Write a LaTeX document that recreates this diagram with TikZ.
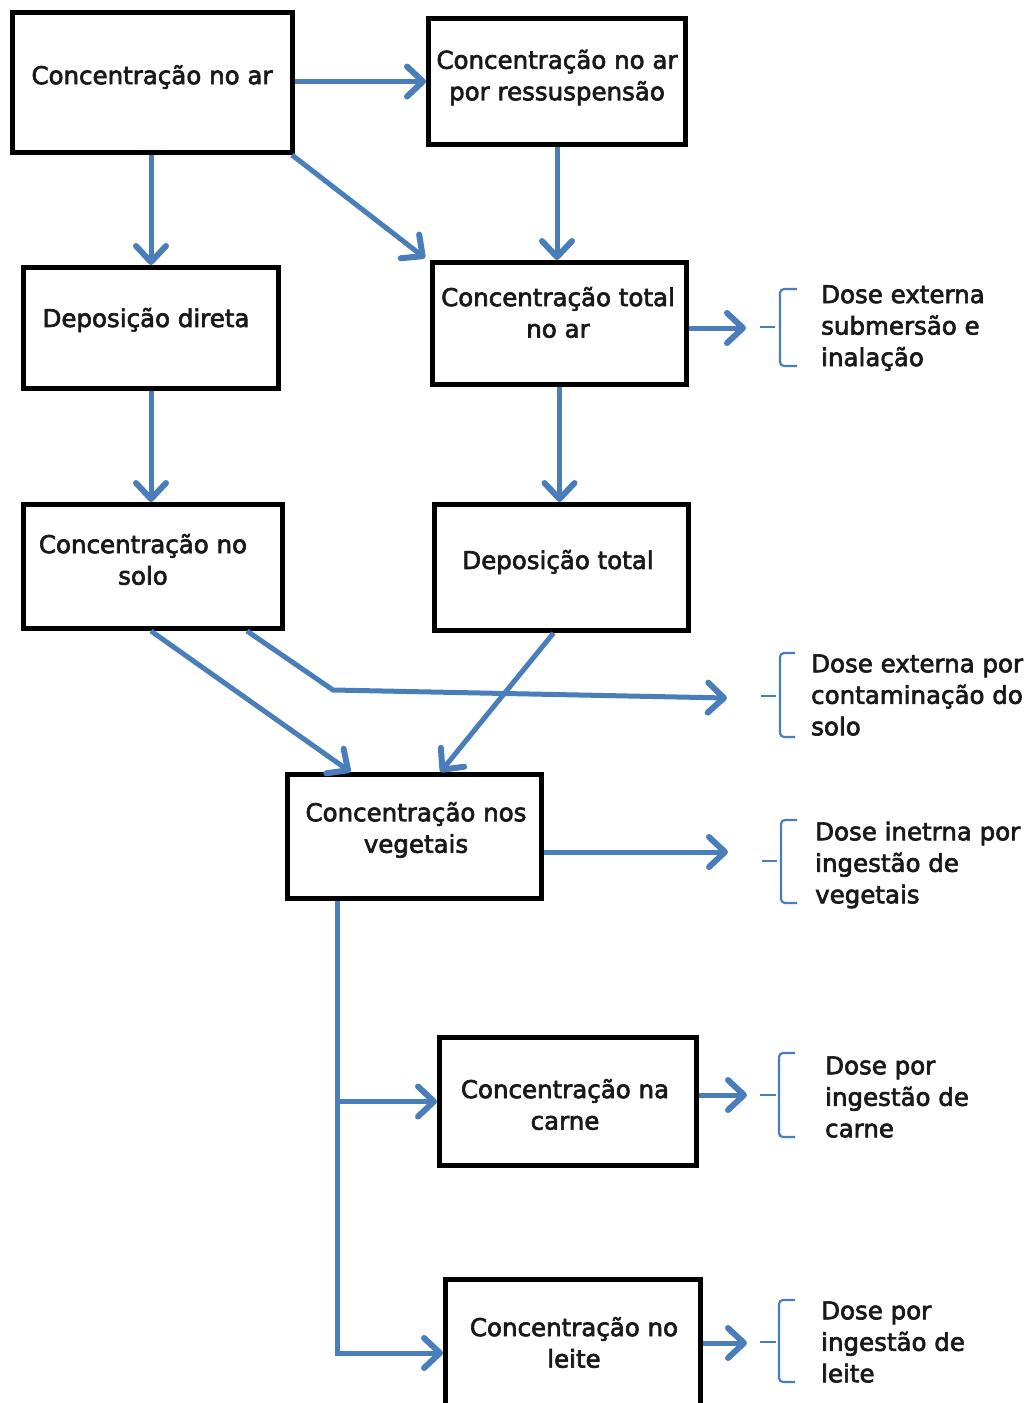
\documentclass[tikz,border=0pt]{standalone}
\usepackage{fontspec}
\setmainfont[FakeBold=2.6]{DejaVu Sans}
\usetikzlibrary{arrows.meta,calc}
\definecolor{flow}{RGB}{74,126,187}
\definecolor{ink}{RGB}{25,25,25}

\begin{document}
\begin{tikzpicture}[x=1pt,y=-1pt,
  box/.style={draw=black, line width=5pt, rectangle, inner sep=0pt},
  lbl/.style={font=\fontsize{24.5}{31.5}\selectfont, align=center, inner sep=0pt, text=ink},
  dose/.style={font=\fontsize{24.5}{31.5}\selectfont, align=left, anchor=west, inner sep=0pt, text=ink},
  arr/.style={draw=flow, line width=5pt, -{Straight Barb[length=16pt,width=30pt,line width=6pt,round]}},
  brk/.style={draw=flow, line width=2.2pt, rounded corners=4pt},
]
\fill[white] (0,0) rectangle (1033,1403);
\useasboundingbox (0,0) rectangle (1033,1403);

% boxes
\node[box, minimum width=280pt, minimum height=140pt] (b1) at (152.5,82.5) {};
\node[box, minimum width=257pt, minimum height=126pt] (b2) at (557,81.5) {};
\node[box, minimum width=255pt, minimum height=121pt] (b3) at (151,328) {};
\node[box, minimum width=254pt, minimum height=122pt] (b4) at (559.5,323.5) {};
\node[box, minimum width=259pt, minimum height=124pt] (b5) at (153,566.5) {};
\node[box, minimum width=254pt, minimum height=126pt] (b6) at (561.5,567.5) {};
\node[box, minimum width=254pt, minimum height=124pt] (b7) at (414.5,836.5) {};
\node[box, minimum width=257pt, minimum height=128pt] (b8) at (568,1101.5) {};
\node[box, minimum width=255pt, minimum height=135pt] (b9) at (573,1347) {};

% box texts
\node[lbl] (t1) at (152,77) {Concentração no ar};
\node[lbl] (t2) at (557,77.5) {Concentração no ar\\por ressuspensão};
\node[lbl] (t3) at (146,320) {Deposição direta};
\node[lbl] (t4) at (558,312.5) {Concentração total\\no ar};
\node[lbl] (t5) at (143,559.5) {Concentração no\\solo};
\node[lbl] (t6) at (558,562) {Deposição total};
\node[lbl] (t7) at (416,830) {Concentração nos\\vegetais};
\node[lbl] (t8) at (565,1104.5) {Concentração na\\carne};
\node[lbl] (t9) at (574,1342.5) {Concentração no\\leite};

% dose texts
\node[dose] (d1) at (821,328) {Dose externa\\submersão e\\inalação};
\node[dose] (d2) at (811,695) {Dose externa por\\contaminação do\\solo};
\node[dose] (d3) at (815,865) {Dose inetrna por\\ingestão de\\vegetais};
\node[dose] (d4) at (825,1097) {Dose por\\ingestão de\\carne};
\node[dose] (d5) at (821,1342) {Dose por\\ingestão de\\leite};

% free ends of the dose arrows
\coordinate (k1) at (746,328);
\coordinate (k2) at (727,698);
\coordinate (k3) at (728,852);
\coordinate (k4) at (747,1095);
\coordinate (k5) at (747,1343);
\coordinate (bend) at (333,690);

% connectors
\draw[arr] (b1.east |- b2.west) -- (b2.west);
\draw[arr] (b3.north |- b1.south) -- (b3.north);
\draw[arr] ([xshift=-3pt]b1.south east) -- ([xshift=-5pt,yshift=2pt]b4.north west);
\draw[arr] (b2.south) -- (b2.south |- b4.north);
\draw[arr] (b4.east |- k1) -- (k1);
\draw[arr] (b3.south) -- (b3.south |- b5.north);
\draw[arr] (b4.south) -- (b4.south |- b6.north);
\draw[arr] ([xshift=-2pt]b5.south) -- ([xshift=-64pt]b7.north);
\draw[arr] ([xshift=94pt]b5.south) -- (bend) -- (k2);
\draw[arr] ([xshift=-8pt]b6.south) -- ([xshift=26pt]b7.north);
\draw[arr] (b7.east |- k3) -- (k3);
\draw[arr] ([xshift=-77pt]b7.south) |- ([yshift=-6pt]b9.west);
\draw[arr] ([xshift=-77pt]b7.south |- b8.west) -- (b8.west);
\draw[arr] (b8.east |- k4) -- (k4);
\draw[arr] (b9.east |- k5) -- (k5);

% brackets in front of the dose texts
\draw[brk] (760,327) -- (775,327);
\draw[brk] (797,289) -- (780,289) -- (780,366) -- (797,366);
\draw[brk] (761,696) -- (776,696);
\draw[brk] (795,653) -- (780,653) -- (780,737) -- (795,737);
\draw[brk] (762,861) -- (777,861);
\draw[brk] (797,820) -- (781,820) -- (781,903) -- (797,903);
\draw[brk] (760,1095) -- (776,1095);
\draw[brk] (795,1053) -- (779,1053) -- (779,1137) -- (795,1137);
\draw[brk] (760,1342) -- (776,1342);
\draw[brk] (795,1300) -- (779,1300) -- (779,1382) -- (795,1382);
\end{tikzpicture}
\end{document}
